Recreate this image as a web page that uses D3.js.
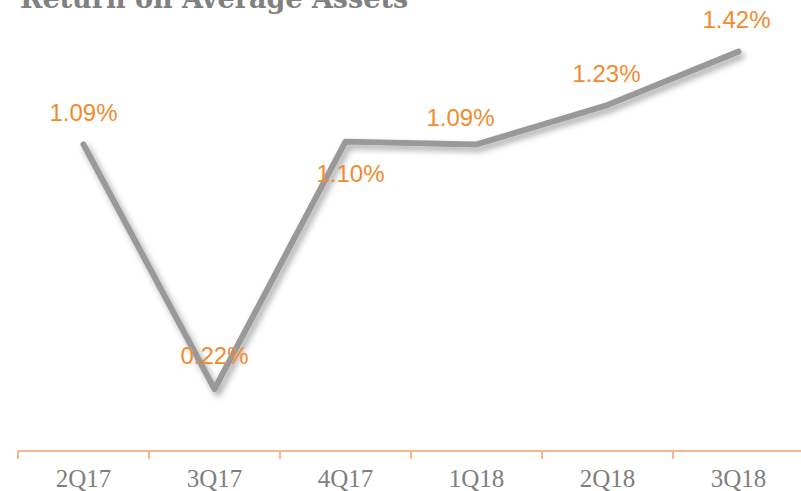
<!DOCTYPE html>
<html><head><meta charset="utf-8">
<script src="https://cdn.jsdelivr.net/npm/d3@7"></script>
<style>body{margin:0;background:#fff;overflow:hidden}</style>
</head><body>
<script>
const categories = ["2Q17","3Q17","4Q17","1Q18","2Q18","3Q18"];
const values = [1.09, 0.22, 1.10, 1.09, 1.23, 1.42];
const labels = ["1.09%","0.22%","1.10%","1.09%","1.23%","1.42%"];
const labelDx = [0, 0, 5, -16, -1, -2];
const labelDy = [-23, -25, 40, -18, -23, -24];

const W = 801, H = 491;
const svg = d3.select("body").append("svg").attr("width", W).attr("height", H);

const x = d3.scaleBand().domain(categories).range([18, 804]);
const y = d3.scaleLinear().domain([0, 1.6]).range([451, 1]);

const defs = svg.append("defs");
const f = defs.append("filter").attr("id","sh").attr("x","-10%").attr("y","-10%").attr("width","130%").attr("height","130%");
f.append("feDropShadow").attr("dx",3).attr("dy",4).attr("stdDeviation",3).attr("flood-color","#000").attr("flood-opacity",0.35);

svg.append("text").attr("x", 20).attr("y", 8)
  .attr("font-family","'DejaVu Serif', serif").attr("font-weight","bold")
  .attr("font-size", 27).attr("fill","#808080").text("Return on Average Assets");

const line = d3.line().x((d,i)=>x(categories[i]) + x.bandwidth()/2).y(d=>y(d));
svg.append("path").datum(values).attr("d", line)
  .attr("fill","none").attr("stroke","#999999").attr("stroke-width",6)
  .attr("stroke-linejoin","round").attr("stroke-linecap","round")
  .attr("filter","url(#sh)");

const ax = svg.append("g").attr("transform","translate(0,451)")
  .call(d3.axisBottom(x).tickSize(0).tickPadding(0));
ax.select(".domain").attr("stroke","#F8B58F").attr("stroke-width",2).attr("d","M18,0H801");
ax.selectAll(".tick text").attr("dy",null).attr("y",36)
  .attr("font-family","'Liberation Serif', serif").attr("font-size",25).attr("fill","#7f7f7f");
const bounds = categories.map(c => x(c));
ax.selectAll(".sep").data(bounds).enter().append("line")
  .attr("x1",d=>d).attr("x2",d=>d).attr("y1",0).attr("y2",8)
  .attr("stroke","#F8B58F").attr("stroke-width",2);

svg.append("g").selectAll("text").data(values).enter().append("text")
  .attr("x",(d,i)=>x(categories[i]) + x.bandwidth()/2 + labelDx[i])
  .attr("y",(d,i)=>y(d) + labelDy[i])
  .attr("text-anchor","middle")
  .attr("font-family","'Liberation Sans', Arial, sans-serif").attr("font-size",24)
  .attr("fill","#F28A2E").text((d,i)=>labels[i]);
</script>
</body></html>
